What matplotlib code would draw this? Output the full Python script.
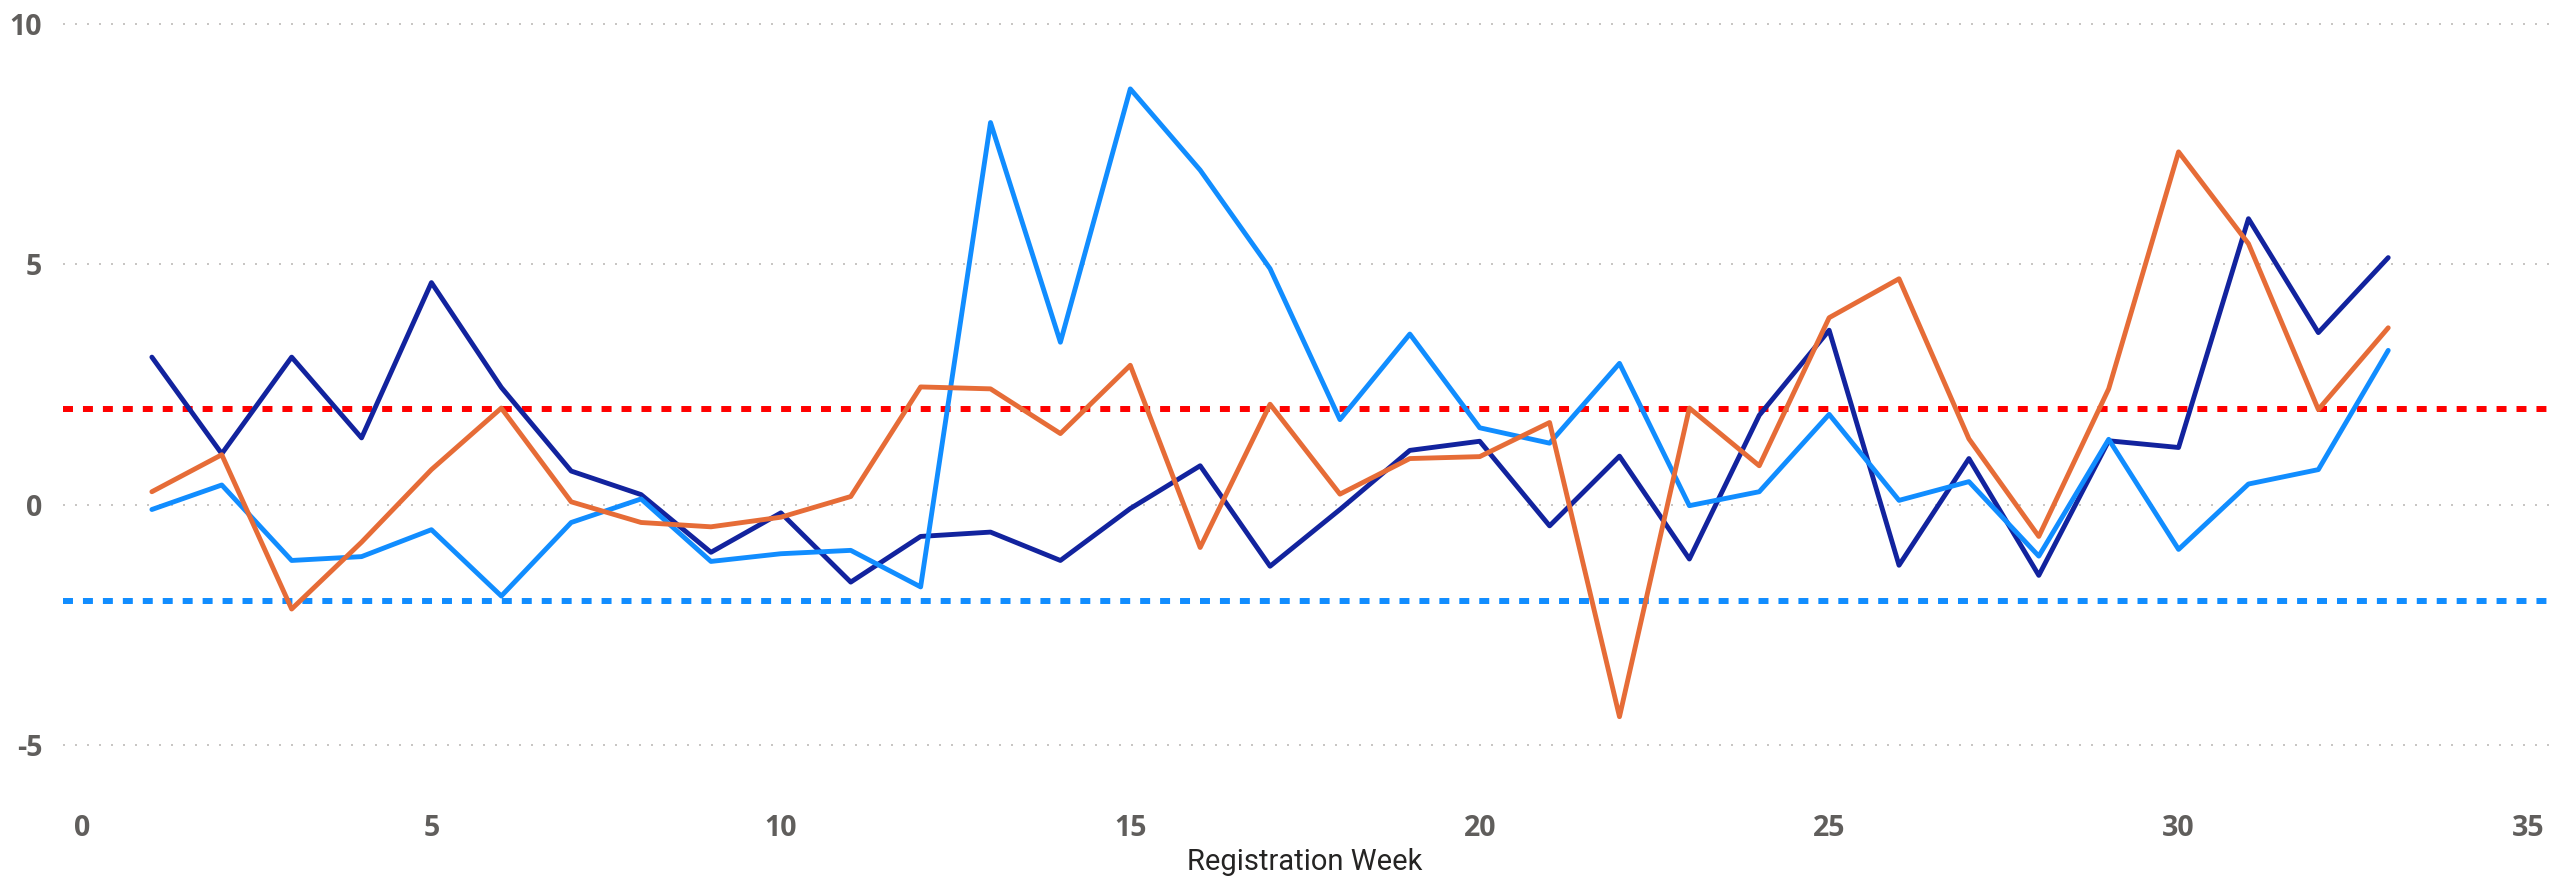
import matplotlib
matplotlib.use("Agg")
import matplotlib.pyplot as plt

plt.rcParams["axes.unicode_minus"] = False

weeks = list(range(1, 34))
navy = [3.07, 1.06, 3.07, 1.39, 4.62, 2.44, 0.70, 0.21, -0.99, -0.17, -1.61,
        -0.66, -0.57, -1.16, -0.08, 0.81, -1.28, -0.10, 1.13, 1.32, -0.44, 1.01,
        -1.13, 1.86, 3.63, -1.26, 0.96, -1.47, 1.33, 1.19, 5.95, 3.58, 5.14]
light = [-0.10, 0.41, -1.16, -1.08, -0.52, -1.90, -0.37, 0.12, -1.18, -1.02, -0.95,
         -1.71, 7.95, 3.38, 8.65, 6.96, 4.91, 1.77, 3.55, 1.60, 1.28, 2.94,
         -0.02, 0.27, 1.88, 0.09, 0.48, -1.07, 1.36, -0.93, 0.43, 0.73, 3.21]
orange = [0.27, 1.04, -2.17, -0.78, 0.73, 2.01, 0.06, -0.37, -0.46, -0.26, 0.17,
          2.45, 2.41, 1.48, 2.90, -0.89, 2.09, 0.22, 0.96, 1.00, 1.71, -4.41,
          2.01, 0.81, 3.89, 4.70, 1.37, -0.66, 2.41, 7.34, 5.43, 1.98, 3.68]
upper_limit = 2
lower_limit = -2
y_ticks = [-5, 0, 5, 10]
x_ticks = [0, 5, 10, 15, 20, 25, 30, 35]
x_label = "Registration Week"

W, H = 2549, 876
fig = plt.figure(figsize=(W / 100, H / 100), dpi=100)
ax = fig.add_axes([63 / W, 1 - 795 / H, (W - 63) / W, 795 / H])

px_y = 48.07
ax.set_ylim(10 - (795 - 24) / px_y, 10 + 24 / px_y)
px_x = (2528 - 82) / 35
ax.set_xlim(-(82 - 63) / px_x, 35 + (W - 2528) / px_x)

for v in y_ticks:
    ax.axhline(v, color="#C8C6C4", lw=1.44, linestyle=(0, (1, 5)), zorder=0)

ax.axhline(upper_limit, color="#FF0000", lw=4.3, linestyle=(0, (1.67, 1.67)),
           dash_capstyle="butt", zorder=1)
ax.axhline(lower_limit, color="#118DFF", lw=4.3, linestyle=(0, (1.67, 1.67)),
           dash_capstyle="butt", zorder=1)

kw = dict(lw=3.5, solid_joinstyle="round", solid_capstyle="round", zorder=3)
ax.plot(weeks, navy, color="#12239E", **kw)
ax.plot(weeks, light, color="#118DFF", **kw)
ax.plot(weeks, orange, color="#E66C37", **kw)

for s in ax.spines.values():
    s.set_visible(False)
ax.set_yticks(y_ticks)
ax.set_xticks(x_ticks)
ax.tick_params(length=0)
ax.tick_params(axis="y", pad=15)
ax.tick_params(axis="x", pad=14)
for lab in ax.get_xticklabels() + ax.get_yticklabels():
    lab.set_fontfamily("Open Sans")
    lab.set_fontweight("bold")
    lab.set_fontsize(20.5)
    lab.set_color("#605E5C")

fig.text(1305 / W, 1 - 862 / H, x_label, ha="center", va="center",
         fontsize=21, family="Roboto", color="#252423")

fig.savefig("out.png", dpi=100, facecolor="white")
